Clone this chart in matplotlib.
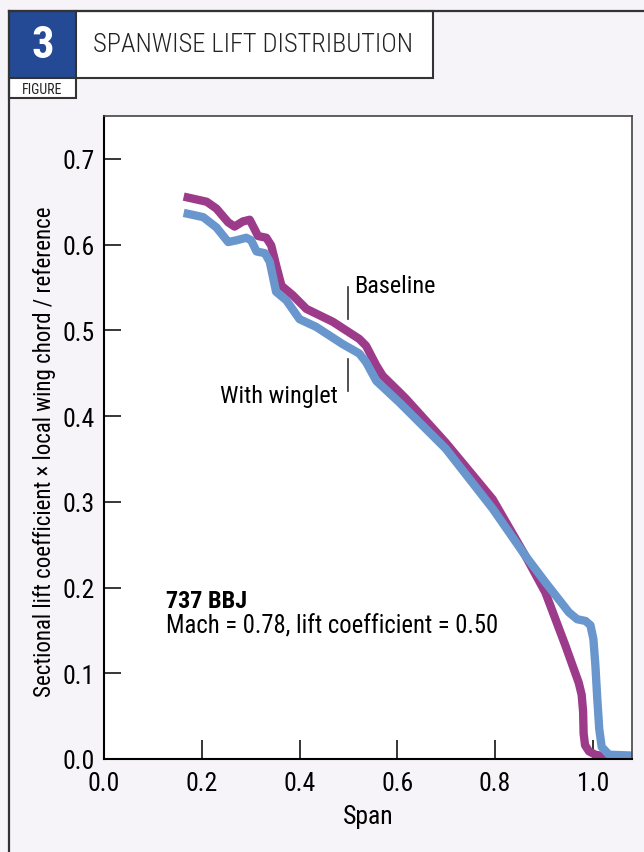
import matplotlib
matplotlib.use("Agg")
import matplotlib.pyplot as plt
from matplotlib.patches import Rectangle
from matplotlib.lines import Line2D

plt.rcParams['font.family'] = ['Roboto Condensed', 'DejaVu Sans']

# spanwise lift distribution, 737 BBJ
span_base = [0.163, 0.210, 0.230, 0.254, 0.267, 0.284, 0.298, 0.308, 0.315, 0.332,
             0.342, 0.352, 0.363, 0.386, 0.414, 0.468, 0.522, 0.536, 0.557, 0.570,
             0.604, 0.618, 0.699, 0.795, 0.862, 0.903, 0.944, 0.971, 0.977, 0.980,
             0.981, 0.984, 0.992, 1.005, 1.026, 1.080]
cl_base = [0.656, 0.650, 0.642, 0.626, 0.621, 0.627, 0.629, 0.618, 0.610, 0.608,
           0.599, 0.576, 0.552, 0.541, 0.525, 0.510, 0.490, 0.482, 0.459, 0.447,
           0.428, 0.420, 0.369, 0.303, 0.237, 0.194, 0.132, 0.089, 0.075, 0.055,
           0.030, 0.016, 0.009, 0.005, 0.003, 0.002]

span_wing = [0.163, 0.203, 0.230, 0.254, 0.271, 0.291, 0.301, 0.312, 0.329, 0.339,
             0.352, 0.373, 0.400, 0.434, 0.488, 0.522, 0.536, 0.557, 0.604, 0.699,
             0.795, 0.862, 0.903, 0.951, 0.968, 0.985, 0.995, 1.001, 1.005, 1.009,
             1.013, 1.018, 1.033, 1.080]
cl_wing = [0.637, 0.632, 0.620, 0.603, 0.605, 0.608, 0.605, 0.592, 0.590, 0.580,
           0.545, 0.535, 0.513, 0.504, 0.484, 0.473, 0.463, 0.441, 0.416, 0.362,
           0.292, 0.237, 0.206, 0.171, 0.163, 0.161, 0.156, 0.140, 0.110, 0.070,
           0.035, 0.014, 0.005, 0.004]

x_ticks = [0.0, 0.2, 0.4, 0.6, 0.8, 1.0]
y_ticks = [0.0, 0.1, 0.2, 0.3, 0.4, 0.5, 0.6, 0.7]

W, H = 644, 853
BG = '#f6f4f8'
EDGE = '#333333'
PURPLE = '#9d3b8b'
BLUE = '#6896cd'


def fx(x):
    return x / W


def fy(y):
    return 1 - y / H


fig = plt.figure(figsize=(W / 100, H / 100), dpi=100, facecolor=BG)

# header: number block, title box, caption tab and page frame
fig.add_artist(Rectangle((fx(9), fy(79)), 67 / W, 67 / H, transform=fig.transFigure,
                         facecolor='#244a96', edgecolor=EDGE, lw=1.5))
fig.add_artist(Rectangle((fx(76), fy(79)), 357 / W, 67 / H, transform=fig.transFigure,
                         facecolor='white', edgecolor=EDGE, lw=1.5))
fig.add_artist(Rectangle((fx(9), fy(99)), 67 / W, 20 / H, transform=fig.transFigure,
                         facecolor='white', edgecolor=EDGE, lw=1.5))
fig.add_artist(Line2D([fx(9), fx(644)], [fy(12), fy(12)], transform=fig.transFigure,
                      color=EDGE, lw=1.6))
fig.add_artist(Line2D([fx(9), fx(9)], [fy(12), fy(853)], transform=fig.transFigure,
                      color=EDGE, lw=1.6))

fig.text(fx(42.5), fy(46), '3', color='white', fontsize=32, fontweight='bold',
         ha='center', va='center')
fig.text(fx(93), fy(45), 'SPANWISE LIFT DISTRIBUTION', color='#222222', fontsize=19,
         fontweight='light', ha='left', va='center')
fig.text(fx(42.5), fy(89.5), 'FIGURE', color='#222222', fontsize=10,
         ha='center', va='center')

ax = fig.add_axes([fx(104), fy(760), (632 - 104) / W, (760 - 117) / H])
ax.set_facecolor('white')

ax.plot(span_base, cl_base, color=PURPLE, lw=6, solid_capstyle='butt',
        solid_joinstyle='round')
ax.plot(span_wing, cl_wing, color=BLUE, lw=6, solid_capstyle='butt',
        solid_joinstyle='round')

ax.set_xlim(0, 1.08)
ax.set_ylim(0, 0.75)
ax.set_xticks(x_ticks)
ax.set_yticks(y_ticks)
ax.set_xticklabels([f'{v:.1f}' for v in x_ticks])
ax.set_yticklabels([f'{v:.1f}' for v in y_ticks])
ax.tick_params(axis='x', direction='in', length=14, width=1.1, labelsize=18.5, pad=9)
ax.tick_params(axis='y', direction='in', length=12, width=1.1, labelsize=18.5, pad=7)

for side in ('left', 'bottom'):
    ax.spines[side].set_color('black')
    ax.spines[side].set_linewidth(1.5)
for side in ('top', 'right'):
    ax.spines[side].set_color('#444444')
    ax.spines[side].set_linewidth(1.2)

ax.set_xlabel('Span', fontsize=18.5, labelpad=6)
fig.text(fx(45), fy(452), 'Sectional lift coefficient \u00d7 local wing chord / reference',
         rotation=90, fontsize=16.5, ha='center', va='center')

# leader ticks for the two curves
ax.plot([0.4986, 0.4986], [0.513, 0.551], color='#333333', lw=1.2)
ax.plot([0.4986, 0.4986], [0.429, 0.467], color='#333333', lw=1.2)
ax.text(0.512, 0.552, 'Baseline', fontsize=17.5, ha='left', va='center')
ax.text(0.478, 0.424, 'With winglet', fontsize=17.5, ha='right', va='center')

ax.text(0.127, 0.185, '737 BBJ', fontsize=17.5, fontweight='bold', ha='left', va='center')
ax.text(0.127, 0.156, 'Mach = 0.78, lift coefficient = 0.50', fontsize=17.7,
        ha='left', va='center')

fig.savefig('out.png', dpi=100, facecolor=BG)
